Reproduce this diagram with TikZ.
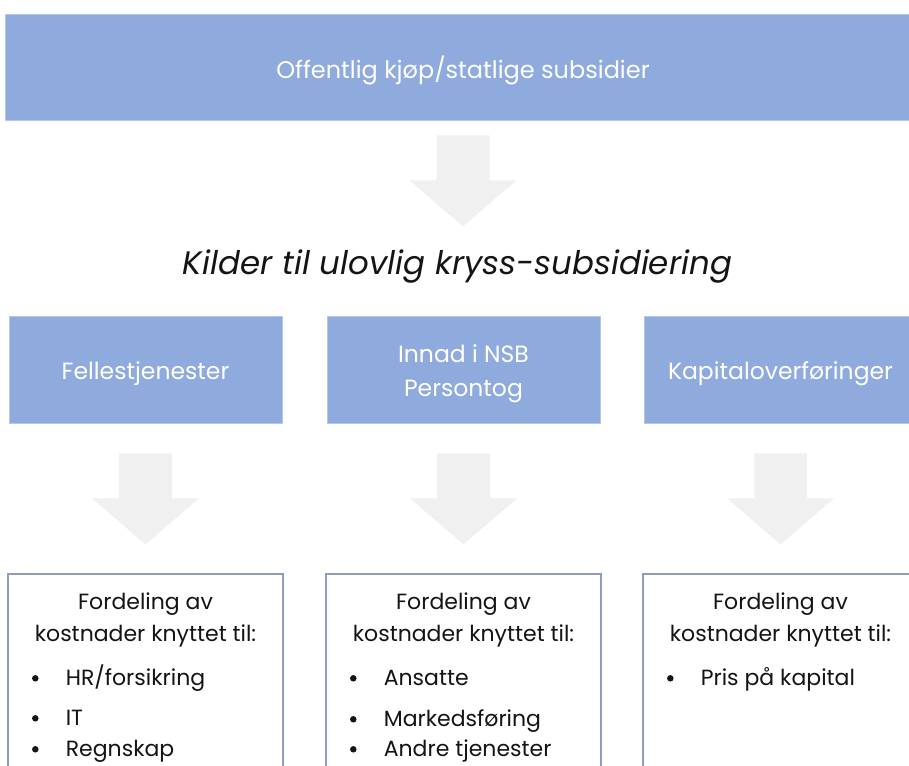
\documentclass[tikz,border=0pt]{standalone}
\usepackage{fontspec}
\setmainfont{Poppins}
\usetikzlibrary{calc}
\definecolor{boxblue}{HTML}{8FAADC}
\definecolor{boxedge}{HTML}{B4C7E7}
\definecolor{frameedge}{HTML}{8E9CBE}
\definecolor{arrowgray}{HTML}{F0F0F0}
\definecolor{textdark}{HTML}{141414}
\begin{document}
\begin{tikzpicture}[x=1pt,y=-1pt,
  bluebox/.style={fill=boxblue,draw=boxedge,line width=0.8pt,inner sep=0pt},
  boxlabel/.style={text=white,align=center,inner sep=0pt},
  headtext/.style={font=\fontsize{23.5}{34}\selectfont},
  framebox/.style={draw=frameedge,line width=1.4pt,fill=white,inner sep=0pt,
    minimum width=275,minimum height=220},
  bodytext/.style={font=\fontsize{22}{26}\selectfont,text=textdark,anchor=base},
  bullettext/.style={bodytext,anchor=base west},
  dot/.style={circle,fill=textdark,inner sep=0pt,minimum size=6.5pt},
  bigarrow/.pic={\fill[arrowgray] (-26.5,0) -- (26.5,0) -- (26.5,45)
     -- (53.5,45) -- (0,91) -- (-53.5,45) -- (-26.5,45) -- cycle;}]
\useasboundingbox (0,0) rectangle (909,765);
\clip (0,0) rectangle (909,765);

% top banner
\node[bluebox,minimum width=916,minimum height=106] (top) at (463,67) {};
\node[boxlabel,font=\fontsize{24}{28}\selectfont] (toplabel)
  at ($(top.center)+(0,3)$) {Offentlig kjøp/statlige subsidier};
\pic at ($(top.south)+(0,15)$) {bigarrow};

% heading
\node[anchor=base,font=\itshape\fontsize{32.5}{36}\selectfont,text=textdark] (title)
  at (457.5,274) {Kilder til ulovlig kryss-subsidiering};

% three sources
\node[bluebox,minimum width=273,minimum height=107] (src1) at (145.5,369.5) {};
\node[bluebox,minimum width=273,minimum height=107] (src2) at (463.5,369.5) {};
\node[bluebox,minimum width=273,minimum height=107] (src3) at (780.5,369.5) {};
\node[boxlabel,headtext] (src1label) at ($(src1.center)+(0,4)$) {Fellestjenester};
\node[boxlabel,headtext] (src2label) at ($(src2.center)+(0,4)$) {Innad i NSB\\Persontog};
\node[boxlabel,headtext] (src3label) at ($(src3.center)+(0,4)$) {Kapitaloverføringer};

\foreach \n in {src1,src2,src3}{
  \pic at ($(\n.south)+(0,30)$) {bigarrow};
}

% cost allocation boxes
\node[framebox] (cost1) at (145.5,684) {};
\node[framebox] (cost2) at (463.5,684) {};
\node[framebox] (cost3) at (780.5,684) {};

\foreach \n/\i in {cost1/a,cost2/b,cost3/c}{
  \node[bodytext] (\i head1) at ($(\n.north)+(0,36)$) {Fordeling av};
  \node[bodytext] (\i head2) at ($(\n.north)+(0,68)$) {kostnader knyttet til:};
}

% bullet lists
\foreach \n/\i/\dy/\txt in {cost1/a1/112/HR\slash forsikring, cost1/a2/152/IT, cost1/a3/183/Regnskap,
    cost2/b1/112/Ansatte, cost2/b2/153/Markedsføring, cost2/b3/183/Andre tjenester,
    cost3/c1/112/Pris på kapital}{
  \node[dot] (\i dot) at ($(\n.north west)+(28,\dy-7)$) {};
  \node[bullettext] (\i) at ($(\n.north west)+(55,\dy)$) {\txt};
}
\end{tikzpicture}
\end{document}
